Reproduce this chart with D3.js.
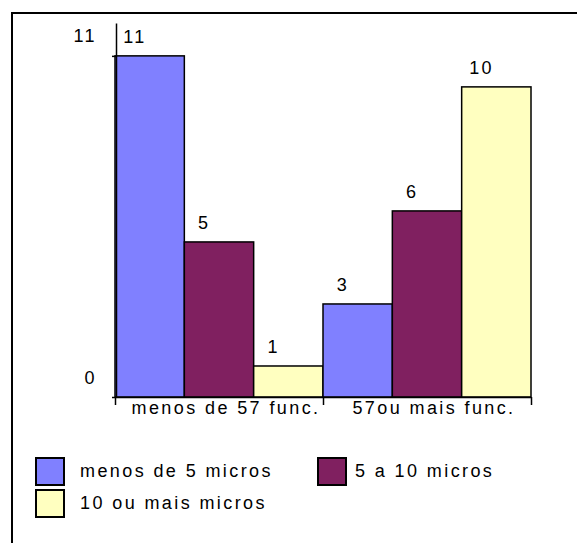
<!DOCTYPE html>
<html>
<head>
<meta charset="utf-8">
<script src="https://cdn.jsdelivr.net/npm/d3@7"></script>
<style>
  html, body { margin: 0; padding: 0; background: #fff; }
  svg { display: block; }
  text { font-family: "Liberation Sans", Arial, sans-serif; font-size: 18px; letter-spacing: 2.4px; fill: #000; }
</style>
</head>
<body>
<script>
const categories = ["menos de 57 func.", "57ou mais func."];
const seriesNames = ["menos de 5 micros", "5 a 10 micros", "10 ou mais micros"];
const seriesColors = ["#8080FF", "#802060", "#FFFFC0"];
const values = [
  [11, 5, 1],   // menos de 57 func.
  [3, 6, 10]    // 57ou mais func.
];
const yTicks = [0, 11];
const yMax = 12.06;

const W = 577, H = 543;
const svg = d3.select("body").append("svg").attr("width", W).attr("height", H);

// outer frame
svg.append("rect").attr("x", 12).attr("y", 13).attr("width", 700).attr("height", 700)
  .attr("fill", "none").attr("stroke", "#000").attr("stroke-width", 2);

const plotL = 115, plotR = 531, plotB = 397, plotT = 23;
const x0 = d3.scaleBand().domain(categories).range([plotL, plotR]).padding(0);
const x1 = d3.scaleBand().domain(seriesNames).range([0, x0.bandwidth()]).padding(0);
const y = d3.scaleLinear().domain([0, yMax]).range([plotB, plotT]);

// bars
const groups = svg.append("g").selectAll("g").data(categories).join("g")
  .attr("transform", c => `translate(${x0(c)},0)`);
groups.each(function(c, ci) {
  const g = d3.select(this);
  const rows = seriesNames.map((s, si) => ({ s, si, v: values[ci][si] }));
  g.selectAll("rect").data(rows).join("rect")
    .attr("x", d => x1(d.s))
    .attr("y", d => y(d.v))
    .attr("width", x1.bandwidth())
    .attr("height", d => y(0) - y(d.v))
    .attr("fill", d => seriesColors[d.si])
    .attr("stroke", "#000").attr("stroke-width", 1.5);
  g.selectAll("text.val").data(rows).join("text").attr("class", "val")
    .attr("x", d => x1(d.s) + x1.bandwidth() * 0.27 + 1.2)
    .attr("y", d => y(d.v) - 12.7)
    .attr("text-anchor", "middle")
    .text(d => d.v);
});

// y axis
const yAxis = svg.append("g").attr("transform", `translate(116,0)`)
  .call(d3.axisLeft(y).tickValues(yTicks).tickSize(4).tickSizeOuter(0).tickFormat(d3.format("d")));
yAxis.select(".domain").attr("stroke", "#000").attr("stroke-width", 1.5);
yAxis.selectAll(".tick line").attr("stroke", "#000").attr("stroke-width", 1.5);
yAxis.selectAll(".tick text")
  .attr("x", -19).attr("dy", null).attr("y", -14)
  .style("font-family", "'Liberation Sans', Arial, sans-serif").style("font-size", "18px")
  .attr("fill", "#000");

// x axis
const xLin = d3.scaleLinear().domain([0, categories.length]).range([plotL, plotR]);
const xAxis = svg.append("g").attr("transform", `translate(0,${plotB})`)
  .call(d3.axisBottom(xLin).tickValues(d3.range(categories.length + 1)).tickSize(8).tickSizeOuter(0).tickFormat(""));
xAxis.select(".domain").attr("stroke", "#000").attr("stroke-width", 1.5);
xAxis.selectAll(".tick line").attr("stroke", "#000").attr("stroke-width", 1.5);

svg.append("g").selectAll("text").data(categories).join("text")
  .attr("x", c => x0(c) + x0.bandwidth() / 2 + 7)
  .attr("y", 413.5)
  .attr("text-anchor", "middle")
  .text(c => c);

// legend
const legendPos = [
  { x: 36, y: 458 },
  { x: 318, y: 458 },
  { x: 36, y: 490 }
];
const leg = svg.append("g").selectAll("g").data(seriesNames).join("g")
  .attr("transform", (d, i) => `translate(${legendPos[i].x},${legendPos[i].y})`);
leg.append("rect").attr("width", 28).attr("height", 27)
  .attr("fill", (d, i) => seriesColors[i]).attr("stroke", "#000").attr("stroke-width", 2);
leg.append("text").attr("x", (d, i) => i === 1 ? 37 : 44).attr("y", 19).text(d => d);
</script>
</body>
</html>
